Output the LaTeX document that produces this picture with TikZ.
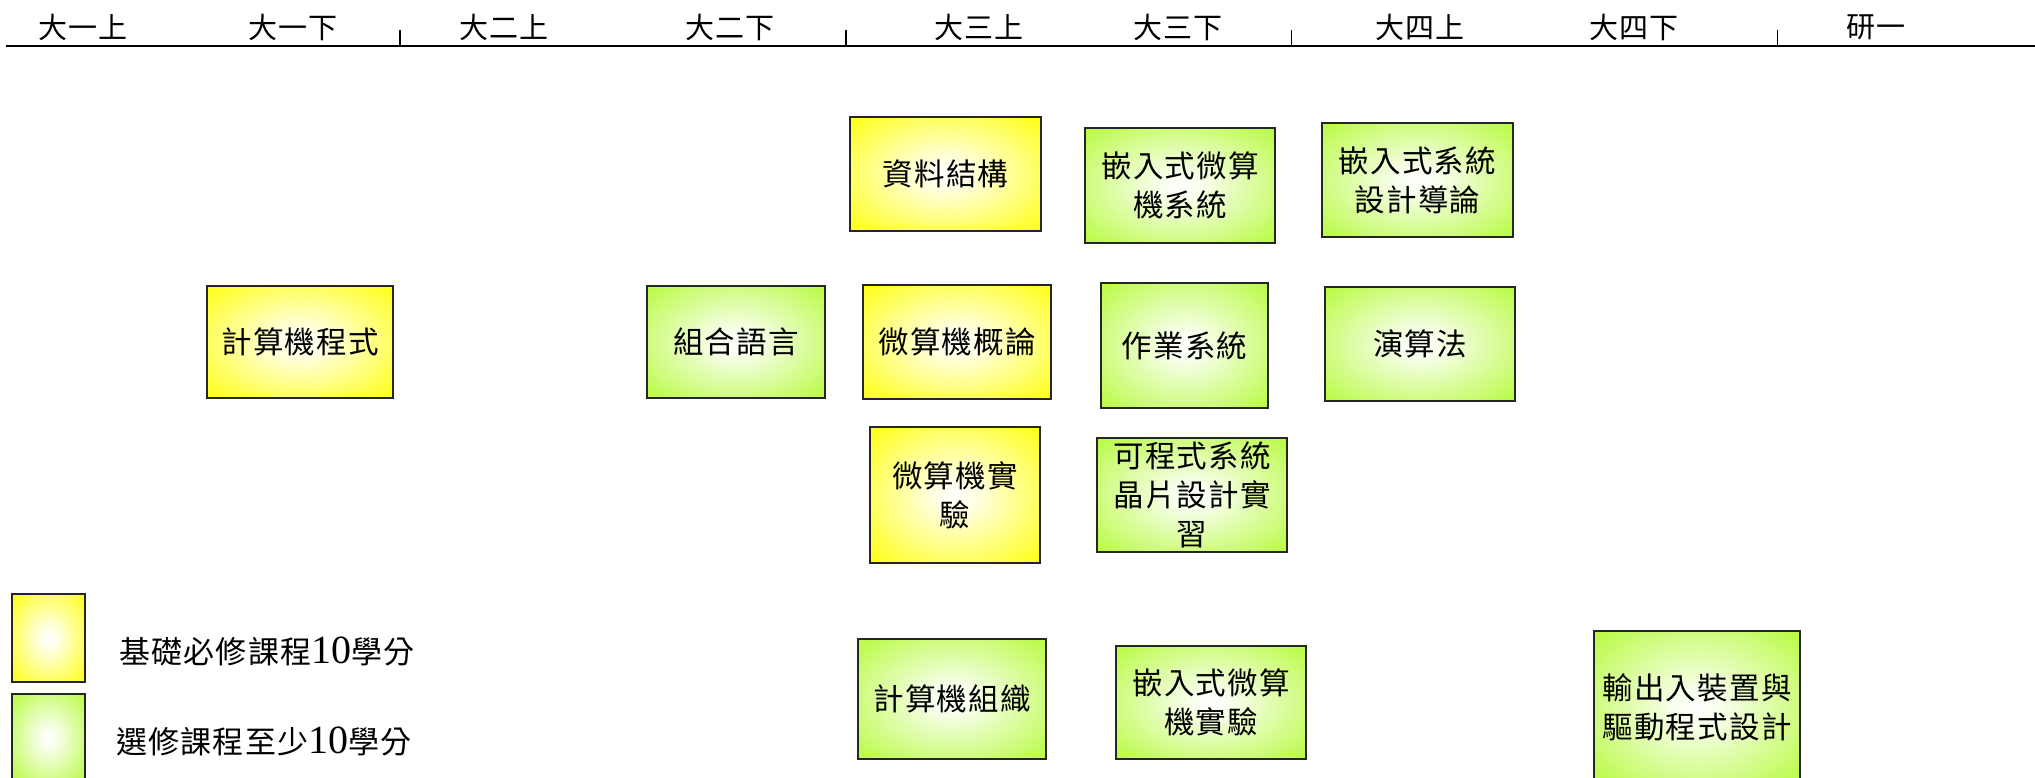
\documentclass[tikz,border=0pt]{standalone}
\usepackage{fontspec}
\setmainfont{Noto Sans CJK TC}
\newfontfamily\tnr{Liberation Serif}
\definecolor{yc}{RGB}{255,255,0}
\definecolor{gc}{RGB}{178,250,50}
\pgfdeclareradialshading{yshade}{\pgfpoint{0bp}{0bp}}{color(0bp)=(white); color(6bp)=(white!90!yc); color(38bp)=(yc); color(50bp)=(yc)}
\pgfdeclareradialshading{gshade}{\pgfpoint{0bp}{0bp}}{color(0bp)=(white); color(6bp)=(white!90!gc); color(38bp)=(gc); color(50bp)=(gc)}
\tikzset{
  course/.style={draw=black!85, line width=1.2pt, inner sep=0pt, align=center,
    font=\fontsize{30.5}{39}\selectfont\addfontfeature{LetterSpace=4}},
  req/.style={course, shade, shading=yshade},
  ele/.style={course, shade, shading=gshade},
  sem/.style={font=\fontsize{29}{30}\selectfont\addfontfeature{LetterSpace=4}, inner sep=0pt},
  legtext/.style={font=\fontsize{31}{34}\selectfont\addfontfeature{LetterSpace=4}, inner sep=0pt, anchor=west},
  axis/.style={line width=2.4pt},
  tick/.style={line width=1.4pt},
}
\begin{document}
\begin{tikzpicture}[x=1pt,y=-1pt]
\useasboundingbox (0,0) rectangle (2035,777);
% axis
\coordinate (L) at (6,46);
\coordinate (R) at (2035,46);
\draw[axis] (L) -- (R);
\foreach \i/\x in {1/400,2/846,3/1291.5,4/1777.5}{
  \coordinate (t\i a) at (\x,30);
  \coordinate (t\i b) at (\x,46);
  \draw[tick] (t\i a) -- (t\i b);
}
% semester labels
\node[sem] (s1) at (83,27) {大一上};
\node[sem] (s2) at (293,27) {大一下};
\node[sem] (s3) at (504,27) {大二上};
\node[sem] (s4) at (730,27) {大二下};
\node[sem] (s5) at (979,27) {大三上};
\node[sem] (s6) at (1178,27) {大三下};
\node[sem] (s7) at (1420,27) {大四上};
\node[sem] (s8) at (1634,27) {大四下};
\node[sem] (s9) at (1876,27) {研一};
% courses
\node[req, minimum width=191, minimum height=114] (ds) at (945.5,174) {資料結構};
\node[ele, minimum width=190, minimum height=115] (ems) at (1180,185.5) {嵌入式微算\\機系統};
\node[ele, minimum width=191, minimum height=114] (esd) at (1417.5,180) {嵌入式系統\\設計導論};
\node[req, minimum width=186, minimum height=112] (cp) at (300,342) {計算機程式};
\node[ele, minimum width=178, minimum height=112] (asm) at (736,342) {組合語言};
\node[req, minimum width=188, minimum height=114] (mc) at (957,342) {微算機概論};
\node[ele, minimum width=167, minimum height=125] (os) at (1184.5,345.5) {作業系統};
\node[ele, minimum width=190, minimum height=114] (alg) at (1420,344) {演算法};
\node[req, minimum width=170, minimum height=136] (mcl) at (955,495) {微算機實\\驗};
\node[ele, minimum width=190, minimum height=114] (psoc) at (1192,495) {可程式系統\\晶片設計實\\習};
\node[ele, minimum width=188, minimum height=120] (co) at (952,699) {計算機組織};
\node[ele, minimum width=190, minimum height=113] (eml) at (1211,702.5) {嵌入式微算\\機實驗};
\node[ele, minimum width=206, minimum height=153] (io) at (1697,707.5) {輸出入裝置與\\驅動程式設計};
% legend
\node[req, minimum width=73, minimum height=88] (ly) at (48.5,638) {};
\node[ele, minimum width=73, minimum height=88] (lg) at (48.5,738) {};
\node[legtext] (lyt) at (119,652) {基礎必修課程{\tnr\fontsize{40}{40}\selectfont 10}學分};
\node[legtext] (lgt) at (116,742) {選修課程至少{\tnr\fontsize{40}{40}\selectfont 10}學分};
\end{tikzpicture}
\end{document}
